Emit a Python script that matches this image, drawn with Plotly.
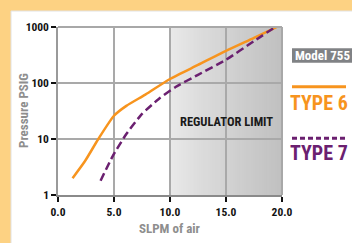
import plotly.graph_objects as go

# ---- data ----
type6_x = [1.3, 2.4, 3.6, 5.0, 6.1, 7.8, 10.0, 12.5, 15.0, 17.5, 19.5]
type6_y = [2.0, 4.0, 10, 26, 39, 62, 118, 210, 375, 640, 990]
type7_x = [3.8, 4.9, 6.1, 7.5, 9.0, 10.5, 12.5, 15.0, 17.5, 19.3]
type7_y = [1.8, 5.0, 12.3, 28, 52, 85, 140, 260, 560, 970]
x_ticks = [0, 5, 10, 15, 20]
x_tick_labels = ["0.0", "5.0", "10.0", "15.0", "20.0"]
y_ticks = [1, 10, 100, 1000]
y_tick_labels = ["1", "10", "100", "1000"]
limit_start, limit_end = 10, 20

# ---- layout constants ----
W, H = 352, 243
ML, MR, MT, MB = 58, 70, 27, 48
PW, PH = W - ML - MR, H - MT - MB
FONT = "Roboto Condensed, Liberation Sans Narrow, DejaVu Sans Condensed, sans-serif"
ORANGE = "#F7941E"
PURPLE = "#6B2070"
GRAYTXT = "#8e8e8e"
GRID = "#a9a9a9"


def px(xp):
    return (xp - ML) / PW


def py(yp):
    return (H - MB - yp) / PH


fig = go.Figure()
fig.add_trace(go.Scatter(x=type6_x, y=type6_y, mode="lines",
                         line=dict(color=ORANGE, width=2.5, shape="spline", smoothing=0.6),
                         showlegend=False, hoverinfo="skip"))
fig.add_trace(go.Scatter(x=type7_x, y=type7_y, mode="lines",
                         line=dict(color=PURPLE, width=2.5, dash="8px,4px",
                                   shape="spline", smoothing=0.5),
                         showlegend=False, hoverinfo="skip"))

shapes = []
# white panel over the orange frame
shapes.append(dict(type="rect", xref="paper", yref="paper",
                   x0=px(11), x1=px(W + 2), y0=py(H + 2), y1=py(11),
                   fillcolor="white", line=dict(color="#e2e2e2", width=1), layer="below"))
# gradient "regulator limit" band (overlapping strips to avoid seams)
n = 50
step = (limit_end - limit_start) / n
for i in range(n):
    a = limit_start + step * i
    b = min(limit_end, a + step * 1.6)
    t = (i + 0.5) / n
    g = int(round(234 - (234 - 192) * (t ** 0.85)))
    shapes.append(dict(type="rect", xref="x", yref="y domain", x0=a, x1=b, y0=0, y1=1,
                       fillcolor=f"rgb({g},{g},{g})", line=dict(width=0), layer="below"))
# grid lines redrawn over the band so they stay visible there
for xv in x_ticks:
    if limit_start < xv < limit_end:
        shapes.append(dict(type="line", xref="x", yref="y domain", x0=xv, x1=xv, y0=0, y1=1,
                           line=dict(color=GRID, width=1.5), layer="below"))
for yv in y_ticks[1:-1]:
    shapes.append(dict(type="line", xref="x", yref="y", x0=limit_start, x1=limit_end,
                       y0=yv, y1=yv, line=dict(color=GRID, width=1.5), layer="below"))
# top and right borders
shapes.append(dict(type="line", xref="x domain", yref="y domain", x0=0, x1=1, y0=1, y1=1,
                   line=dict(color="#a8a8a8", width=2)))
shapes.append(dict(type="line", xref="x domain", yref="y domain", x0=1, x1=1, y0=0, y1=1,
                   line=dict(color="#a8a8a8", width=2)))
# legend items
shapes.append(dict(type="rect", xref="paper", yref="paper",
                   x0=px(292), x1=px(W + 2), y0=py(62.7), y1=py(48.3),
                   fillcolor="#808285", line=dict(width=0)))
shapes.append(dict(type="line", xref="paper", yref="paper",
                   x0=px(292), x1=px(346), y0=py(86.7), y1=py(86.7),
                   line=dict(color=ORANGE, width=3)))
shapes.append(dict(type="line", xref="paper", yref="paper",
                   x0=px(292), x1=px(346), y0=py(138.3), y1=py(138.3),
                   line=dict(color=PURPLE, width=3, dash="5px,3px")))


def ann(text, x, y, size, color, xref="paper", angle=0):
    return dict(text=text, xref=xref, yref="paper", x=x, y=y, xanchor="center",
                yanchor="middle", textangle=angle, showarrow=False,
                font=dict(family=FONT, size=size, color=color))


annotations = [
    ann("<b>Pressure PSIG</b>", px(23), py(111), 13, GRAYTXT, angle=-90),
    ann("<b>SLPM of air</b>", px(170), py(228), 13, GRAYTXT),
    ann("<b>REGULATOR LIMIT</b>", 15, py(121), 12.5, "#1a1a1a", xref="x"),
    ann("<b>Model 755</b>", px(322.5), py(55.5), 13, "white"),
    ann("<b>TYPE 6</b>", px(319), py(102.5), 20, ORANGE),
    ann("<b>TYPE 7</b>", px(319), py(153.3), 20, PURPLE),
]

fig.update_layout(
    width=W, height=H,
    margin=dict(l=ML, r=MR, t=MT, b=MB, autoexpand=False),
    paper_bgcolor="#FDD283",
    plot_bgcolor="white",
    shapes=shapes,
    annotations=annotations,
    showlegend=False,
    xaxis=dict(range=[0, 20], tickvals=x_ticks, ticktext=x_tick_labels,
               showgrid=True, gridcolor=GRID, gridwidth=1.5, zeroline=False,
               showline=True, linecolor="#8a8a8a", linewidth=1.5,
               ticks="outside", ticklen=5, tickwidth=1.5, tickcolor="#111111",
               tickfont=dict(family=FONT, size=11.5, color="#111111", weight="bold"),
               fixedrange=True),
    yaxis=dict(type="log", range=[0, 3], tickvals=y_ticks, ticktext=y_tick_labels,
               showgrid=True, gridcolor=GRID, gridwidth=1.5, zeroline=False,
               showline=True, linecolor="#9a9a9a", linewidth=1.5,
               ticks="outside", ticklen=5, tickwidth=1.5, tickcolor="#111111",
               tickfont=dict(family=FONT, size=11.5, color="#111111", weight="bold"),
               fixedrange=True),
)

fig.write_html("out.html", config=dict(displayModeBar=False),
               post_script="document.body.style.margin='0';document.body.style.overflow='hidden';")
